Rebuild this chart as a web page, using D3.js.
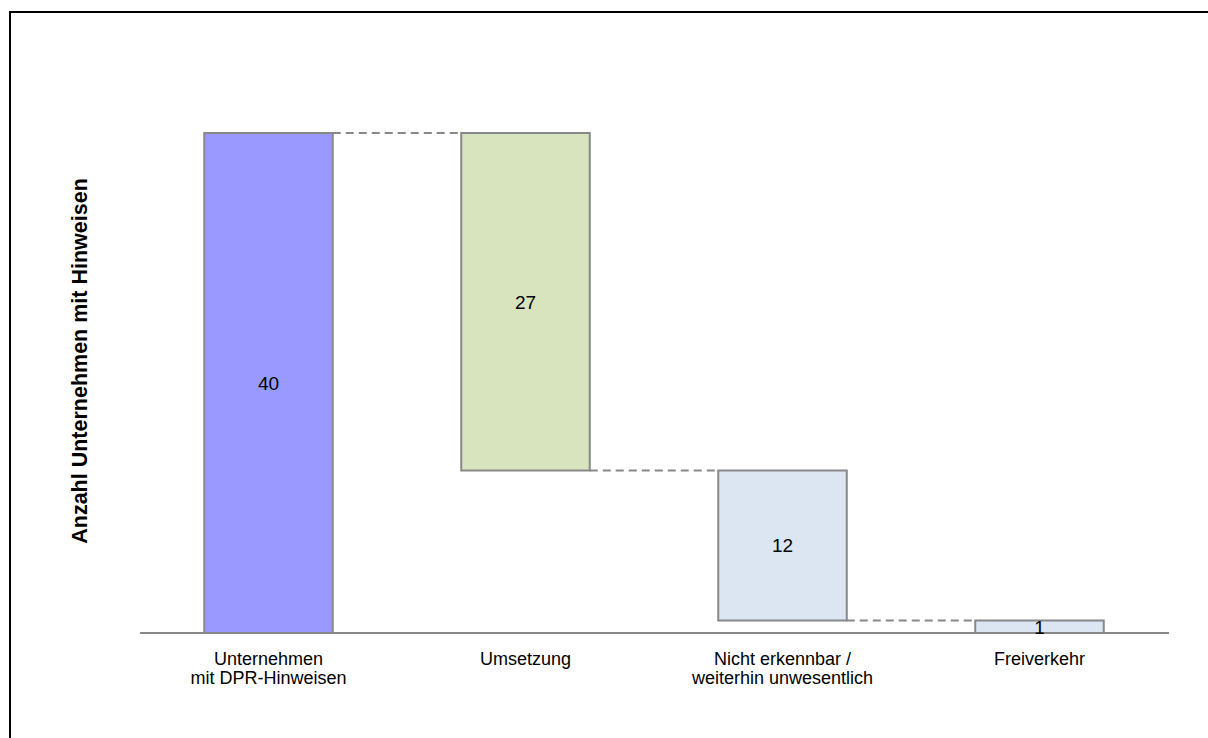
<!DOCTYPE html>
<html>
<head>
<meta charset="utf-8">
<script src="https://cdn.jsdelivr.net/npm/d3@7"></script>
<style>
  html, body { margin: 0; padding: 0; background: #fff; }
  svg { display: block; font-family: Arial, "Liberation Sans", sans-serif; }
</style>
</head>
<body>
<svg id="chart" width="1208" height="738"></svg>
<script>
// Waterfall: companies with DPR findings, broken down by outcome
const categories = [
  ["Unternehmen", "mit DPR-Hinweisen"],
  ["Umsetzung"],
  ["Nicht erkennbar /", "weiterhin unwesentlich"],
  ["Freiverkehr"]
];
const values = [40, 27, 12, 1];
const isTotal = [true, false, false, false];
const fills = ["#9999ff", "#d7e4bd", "#dce6f2", "#dce6f2"];
const yTitle = "Anzahl Unternehmen mit Hinweisen";

// Running start/end for each step of the waterfall
const steps = [];
let level = 0;
values.forEach((v, i) => {
  if (isTotal[i]) { steps.push({ i, y0: 0, y1: v, v }); level = v; }
  else { steps.push({ i, y0: level - v, y1: level, v }); level -= v; }
});

const svg = d3.select("#chart");

// Frame around the chart
svg.append("rect")
  .attr("x", 10).attr("y", 12)
  .attr("width", 1220).attr("height", 760)
  .attr("fill", "none").attr("stroke", "#000").attr("stroke-width", 2);

const x = d3.scaleBand()
  .domain(d3.range(values.length))
  .range([140, 1168])
  .paddingInner(0.5)
  .paddingOuter(0.25);

const y = d3.scaleLinear().domain([0, 40]).range([633, 133]);

// Dashed connectors between consecutive steps
const conn = [];
for (let k = 0; k < steps.length - 1; k++) {
  const lvl = isTotal[k] ? steps[k].y1 : steps[k].y0;
  conn.push({ x1: x(k) + x.bandwidth(), x2: x(k + 1), lvl });
}
svg.append("g").selectAll("line").data(conn).join("line")
  .attr("x1", d => d.x1).attr("x2", d => d.x2)
  .attr("y1", d => y(d.lvl)).attr("y2", d => y(d.lvl))
  .attr("stroke", "#888").attr("stroke-width", 2)
  .attr("stroke-dasharray", "8,5");

// Bars
svg.append("g").selectAll("rect").data(steps).join("rect")
  .attr("x", d => x(d.i))
  .attr("y", d => y(d.y1))
  .attr("width", x.bandwidth())
  .attr("height", d => y(d.y0) - y(d.y1))
  .attr("fill", d => fills[d.i])
  .attr("stroke", "#888").attr("stroke-width", 2);

// Baseline
svg.append("line")
  .attr("x1", 140).attr("x2", 1169)
  .attr("y1", y(0)).attr("y2", y(0))
  .attr("stroke", "#888").attr("stroke-width", 2);

// Value labels centred in each bar
svg.append("g").selectAll("text").data(steps).join("text")
  .attr("x", d => x(d.i) + x.bandwidth() / 2)
  .attr("y", d => (y(d.y0) + y(d.y1)) / 2)
  .attr("dy", "0.36em")
  .attr("text-anchor", "middle")
  .attr("font-size", 19)
  .attr("fill", "#000")
  .text(d => d.v);

// Category labels
const cat = svg.append("g").selectAll("text").data(categories).join("text")
  .attr("text-anchor", "middle")
  .attr("font-size", 18)
  .attr("fill", "#000")
  .attr("x", (d, i) => x(i) + x.bandwidth() / 2)
  .attr("y", 665);
cat.selectAll("tspan").data(d => d).join("tspan")
  .attr("x", function () { return d3.select(this.parentNode).attr("x"); })
  .attr("dy", (d, j) => j === 0 ? 0 : 19)
  .text(d => d);

// Y axis title
svg.append("text")
  .attr("transform", "translate(87, 361) rotate(-90)")
  .attr("text-anchor", "middle")
  .attr("font-size", 21.5)
  .attr("font-weight", "bold")
  .attr("fill", "#000")
  .text(yTitle);
</script>
</body>
</html>
